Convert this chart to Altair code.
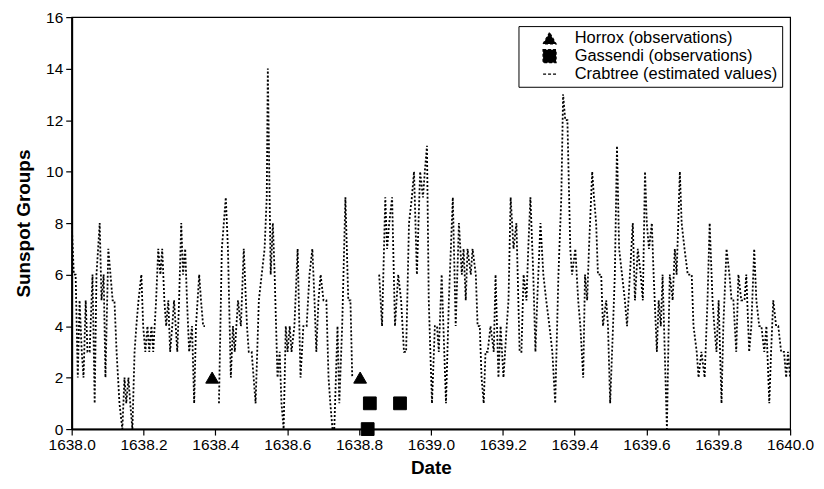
import altair as alt
import pandas as pd

# Crabtree estimated values (None marks a break in the record)
crab_date = [
    1638.000, 1638.006, 1638.011, 1638.017, 1638.022, 1638.028, 1638.033, 1638.039, 1638.044, 1638.050,
    1638.058, 1638.064, 1638.069, 1638.078, 1638.083, 1638.089, 1638.094, 1638.102, 1638.108, 1638.114,
    1638.119, 1638.125, 1638.133, 1638.141, 1638.147, 1638.152, 1638.158, 1638.163, 1638.169, 1638.175,
    1638.180, 1638.186, 1638.194, 1638.199, 1638.205, 1638.211, 1638.216, 1638.222, 1638.227, 1638.235,
    1638.241, 1638.247, 1638.252, 1638.258, 1638.263, 1638.269, 1638.274, 1638.280, 1638.285, 1638.294,
    1638.299, 1638.305, 1638.310, 1638.316, 1638.321, 1638.327, 1638.335, 1638.341, 1638.346, 1638.355,
    1638.360, 1638.366, 1638.371, None,
    1638.410, 1638.418, 1638.429, 1638.435, 1638.443, 1638.449, 1638.454, 1638.463, 1638.471, 1638.479,
    1638.488, 1638.493, 1638.501, 1638.512, 1638.521, 1638.529, 1638.537, 1638.543, 1638.546, 1638.551,
    1638.554, 1638.560, 1638.565, 1638.573, 1638.579, 1638.584, 1638.590, 1638.596, 1638.601, 1638.607,
    1638.612, 1638.620, 1638.629, 1638.637, 1638.645, 1638.654, 1638.662, 1638.670, 1638.676, 1638.681,
    1638.687, 1638.693, 1638.701, 1638.709, 1638.715, 1638.720, 1638.726, 1638.731, 1638.740, 1638.745,
    1638.753, 1638.762, 1638.770, 1638.776, 1638.781, None,
    1638.856, 1638.864, 1638.873, 1638.878, 1638.884, 1638.892, 1638.900, 1638.909, 1638.917, 1638.925,
    1638.931, 1638.939, 1638.947, 1638.953, 1638.961, 1638.970, 1638.978, 1638.983, 1638.989, 1638.994,
    1639.003, 1639.011, 1639.017, 1639.022, 1639.030, 1639.042, 1639.050, 1639.061, 1639.069, 1639.078,
    1639.086, 1639.091, 1639.097, 1639.102, 1639.111, 1639.116, 1639.125, 1639.130, 1639.136, 1639.141,
    1639.147, 1639.152, 1639.158, 1639.166, 1639.175, 1639.180, 1639.188, 1639.194, 1639.202, 1639.211,
    1639.216, 1639.222, 1639.230, 1639.238, 1639.247, 1639.252, 1639.258, 1639.266, 1639.271, 1639.277,
    1639.285, 1639.291, 1639.296, 1639.305, 1639.313, 1639.321, 1639.330, 1639.338, 1639.346, 1639.355,
    1639.363, 1639.368, 1639.374, 1639.380, 1639.388, 1639.393, 1639.402, 1639.410, 1639.416, 1639.424,
    1639.429, 1639.435, 1639.440, 1639.449, 1639.454, 1639.460, 1639.465, 1639.474, 1639.479, 1639.488,
    1639.493, 1639.499, 1639.507, 1639.512, 1639.518, 1639.524, 1639.532, 1639.540, 1639.546, 1639.554,
    1639.562, 1639.568, 1639.576, 1639.584, 1639.590, 1639.596, 1639.601, 1639.607, 1639.615, 1639.620,
    1639.629, 1639.634, 1639.640, 1639.645, 1639.651, 1639.657, 1639.662, 1639.665, 1639.673, 1639.679,
    1639.684, 1639.693, 1639.698, 1639.706, 1639.715, 1639.720, 1639.726, 1639.731, 1639.740, 1639.745,
    1639.753, 1639.762, 1639.770, 1639.776, 1639.784, 1639.789, 1639.795, 1639.801, 1639.809, 1639.814,
    1639.823, 1639.831, 1639.837, 1639.842, 1639.850, 1639.856, 1639.864, 1639.873, 1639.878, 1639.886,
    1639.892, 1639.900, 1639.906, 1639.914, 1639.920, 1639.928, 1639.934, 1639.942, 1639.947, 1639.953,
    1639.961, 1639.967, 1639.975, 1639.983, 1639.989, 1639.994, 1640.000,
]
crab_value = [
    8, 6, 6, 2, 5, 3, 2, 5, 3, 3,
    6, 1, 6, 8, 5, 6, 2, 7, 6, 5,
    5, 3, 1, 0, 2, 1, 2, 1, 0, 3,
    4, 5, 6, 4, 3, 4, 3, 4, 3, 5,
    7, 6, 7, 5, 4, 5, 3, 4, 5, 3,
    5, 8, 6, 7, 5, 3, 4, 1, 4, 6,
    5, 4, 4, None,
    1, 7, 9, 7, 2, 4, 3, 5, 4, 7,
    4, 3, 3, 1, 5, 6, 7, 9, 14, 9,
    6, 8, 6, 2, 3, 1, 0, 4, 3, 4,
    3, 4, 7, 2, 4, 4, 6, 7, 5, 3,
    5, 6, 5, 5, 2, 1, 0, 0, 4, 1,
    4, 9, 5, 5, 2, None,
    6, 4, 9, 7, 8, 9, 4, 6, 5, 3,
    3, 8, 9, 10, 6, 10, 9, 10, 11, 5,
    1, 4, 4, 3, 6, 1, 5, 9, 4, 8,
    6, 7, 5, 7, 6, 7, 6, 4, 4, 2,
    1, 3, 3, 4, 3, 6, 2, 4, 2, 4,
    5, 9, 7, 8, 3, 3, 6, 5, 7, 9,
    6, 3, 5, 8, 6, 5, 4, 3, 1, 6,
    9, 13, 12, 12, 7, 6, 7, 5, 4, 2,
    6, 5, 7, 10, 9, 8, 6, 6, 4, 5,
    4, 1, 4, 6, 11, 7, 6, 5, 4, 6,
    8, 5, 7, 6, 5, 10, 8, 7, 8, 6,
    3, 5, 4, 6, 3, 0, 4, 6, 5, 7,
    6, 10, 8, 7, 6, 6, 6, 4, 3, 2,
    3, 2, 5, 8, 5, 4, 3, 5, 1, 4,
    7, 6, 5, 5, 3, 6, 5, 5, 6, 3,
    4, 7, 5, 4, 4, 3, 4, 1, 3, 5,
    4, 4, 3, 3, 2, 3, 2,
]

horrox_date = [1638.391, 1638.803]
horrox_value = [2, 2]
gassendi_date = [1638.824, 1638.830, 1638.914]
gassendi_value = [0, 1, 1]

H = "Horrox (observations)"
G = "Gassendi (observations)"
C = "Crabtree (estimated values)"
SERIES = [H, G, C]

# break the Crabtree record into continuous pieces at the None markers
rows = []
seg = 0
for d, v in zip(crab_date, crab_value):
    if v is None:
        seg += 1
        continue
    rows.append({"date": d, "value": v, "seg": seg, "series": C})
crab_df = pd.DataFrame(rows)

obs_df = pd.DataFrame(
    [{"date": d, "value": v, "series": H} for d, v in zip(horrox_date, horrox_value)]
    + [{"date": d, "value": v, "series": G} for d, v in zip(gassendi_date, gassendi_value)]
)

FONT = "Liberation Sans"

x_enc = alt.X(
    "date:Q",
    scale=alt.Scale(domain=[1638.0, 1640.0], nice=False),
    axis=alt.Axis(title="Date", values=[1638.0 + 0.2 * i for i in range(11)], format=".1f"),
)
y_enc = alt.Y(
    "value:Q",
    scale=alt.Scale(domain=[0, 16], nice=False),
    axis=alt.Axis(title="Sunspot Groups", values=list(range(0, 17, 2))),
)

line = alt.Chart(crab_df).mark_line(
    color="black", strokeWidth=1.8, strokeDash=[2, 2], clip=True
).encode(x=x_enc, y=y_enc, detail="seg:N")

points = alt.Chart(obs_df).mark_point(
    filled=False, fill="black", stroke="black", strokeWidth=1, opacity=1, fillOpacity=1, size=165
).encode(
    x="date:Q",
    y="value:Q",
    shape=alt.Shape(
        "series:N",
        scale=alt.Scale(domain=SERIES, range=["triangle-up", "square", "stroke"]),
        legend=alt.Legend(
            title=None,
            orient="none",
            legendX=449,
            legendY=9,
            strokeColor="black",
            fillColor="white",
            padding=4,
            labelFont=FONT,
            labelFontSize=16.5,
            labelColor="black",
            labelLimit=400,
            labelOffset=17,
            rowPadding=0,
            symbolOffset=19,
            symbolSize=170,
            symbolStrokeWidth=1.3,
            symbolDash=[3, 2],
            symbolOpacity=1,
        ),
    ),
)

chart = (
    alt.layer(line, points)
    .properties(
        width=722,
        height=414,
        autosize=alt.AutoSizeParams(type="none"),
        padding={"left": 64, "top": 8, "right": 26, "bottom": 51},
    )
    .configure_view(stroke="black", strokeWidth=1.2)
    .configure_axis(
        grid=False,
        domainColor="black",
        domainWidth=2,
        tickColor="black",
        tickWidth=1.2,
        tickSize=6,
        labelFont=FONT,
        labelFontSize=15.5,
        labelColor="black",
        labelPadding=3,
        titleFont=FONT,
        titleFontSize=19,
        titleFontWeight="bold",
        titleColor="black",
    )
    .configure_axisX(titlePadding=5, labelFlush=False)
    .configure_axisY(titlePadding=12)
)

chart.save("out.html", embed_options={"renderer": "svg", "actions": False})
